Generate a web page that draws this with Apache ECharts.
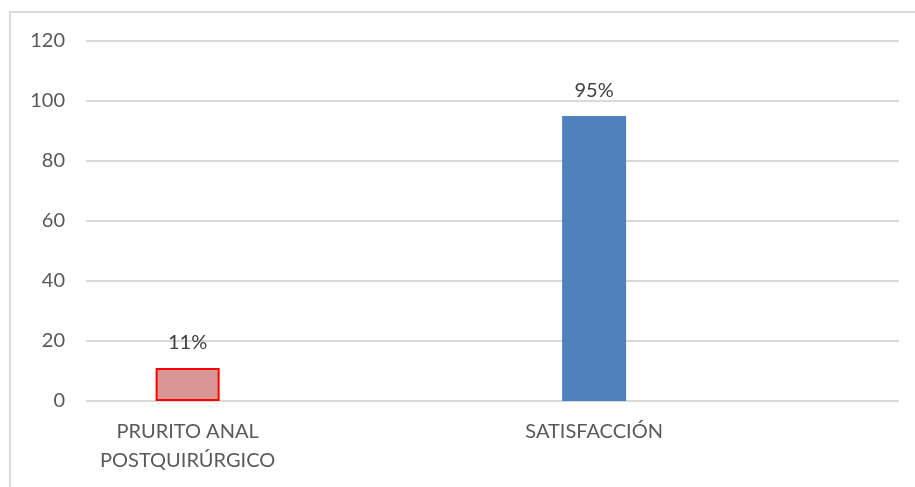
<!DOCTYPE html>
<html>
<head>
<meta charset="utf-8">
<script src="https://cdn.jsdelivr.net/npm/echarts@6/dist/echarts.min.js"></script>
<style>
  html, body { margin: 0; padding: 0; background: #ffffff; }
  #chart { width: 915px; height: 487px; }
</style>
</head>
<body>
<div id="chart"></div>
<script>
// Category slots along the x axis (blank slots keep the spacing between columns)
const categories = ['PRURITO ANAL\nPOSTQUIRÚRGICO', '', 'SATISFACCIÓN', ''];
const values = [11, null, 95, null];
const yTicks = { min: 0, max: 120, interval: 20 };

const fills = ['#d99694', null, '#4f81bd', null];
const borders = ['#ff0000', null, '#4f81bd', null];

const chart = echarts.init(document.getElementById('chart'));

chart.setOption({
  animation: false,
  backgroundColor: '#ffffff',
  textStyle: { fontFamily: 'Lato' },
  graphic: [{
    type: 'rect',
    shape: { x: 10, y: 12, width: 940, height: 520 },
    style: { fill: 'none', stroke: '#d9d9d9', lineWidth: 2 },
    silent: true,
    z: -1
  }],
  grid: { left: 86, right: 16, top: 41, bottom: 86, containLabel: false },
  xAxis: {
    type: 'category',
    data: categories,
    axisLine: { show: false },
    axisTick: { show: false },
    axisLabel: {
      interval: 0,
      color: '#595959',
      fontSize: 20,
      fontFamily: 'Lato',
      lineHeight: 29,
      margin: 16
    }
  },
  yAxis: {
    type: 'value',
    min: yTicks.min,
    max: yTicks.max,
    interval: yTicks.interval,
    axisLine: { show: false },
    axisTick: { show: false },
    axisLabel: { color: '#595959', fontSize: 20, fontFamily: 'Lato', margin: 21 },
    splitLine: { lineStyle: { color: '#d9d9d9', width: 2 } }
  },
  series: [{
    type: 'bar',
    barWidth: 64,
    data: values.map((v, i) => v === null ? null : {
      value: v,
      itemStyle: { color: fills[i], borderColor: borders[i], borderWidth: i === 0 ? 2 : 0 }
    }),
    label: {
      show: true,
      position: 'top',
      distance: 15,
      formatter: '{c}%',
      color: '#404040',
      fontSize: 20,
      fontFamily: 'Lato'
    }
  }]
});
</script>
</body>
</html>
